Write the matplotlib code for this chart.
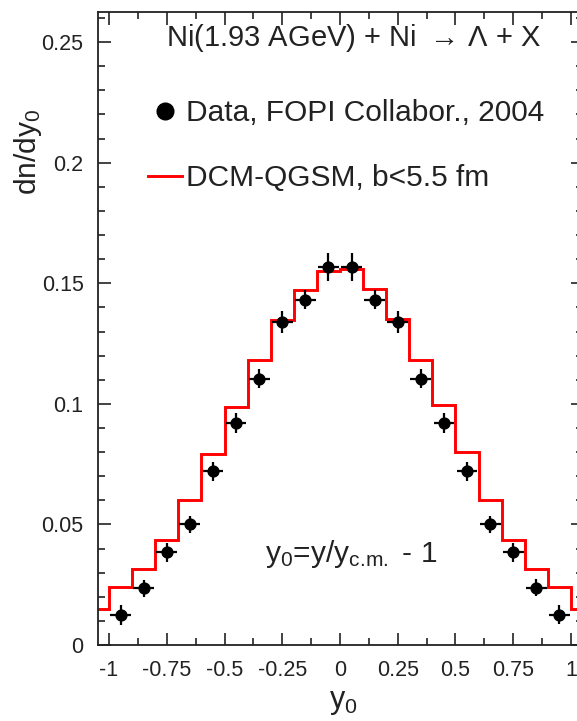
import numpy as np
import matplotlib
matplotlib.use("Agg")
from matplotlib import pyplot as plt
from matplotlib.lines import Line2D
from matplotlib.ticker import MultipleLocator, FuncFormatter

plt.rcParams['font.family'] = ['Liberation Sans', 'DejaVu Sans']
plt.rcParams['mathtext.default'] = 'regular'
plt.rcParams['axes.unicode_minus'] = False

# FOPI data points (bin centres, dn/dy0, errors)
data_x = [-0.95, -0.85, -0.75, -0.65, -0.55, -0.45, -0.35, -0.25, -0.15, -0.05,
          0.05, 0.15, 0.25, 0.35, 0.45, 0.55, 0.65, 0.75, 0.85, 0.95]
data_y = [0.0125, 0.0236, 0.0385, 0.0501, 0.0720, 0.0921, 0.1105, 0.1339, 0.1432, 0.1567,
          0.1567, 0.1432, 0.1339, 0.1105, 0.0921, 0.0720, 0.0501, 0.0385, 0.0237, 0.0126]
data_yerr = [0.0040, 0.0035, 0.0040, 0.0035, 0.0040, 0.0040, 0.0040, 0.0047, 0.0040, 0.0057,
             0.0057, 0.0040, 0.0047, 0.0040, 0.0040, 0.0040, 0.0035, 0.0040, 0.0035, 0.0040]
data_xerr = 0.045

# DCM-QGSM histogram
model_edges = np.round(np.arange(-1.1, 1.1001, 0.1), 2)
model_vals = [0.0148, 0.0240, 0.0314, 0.0435, 0.0600, 0.0794, 0.0987, 0.1180, 0.1346, 0.1473, 0.1553,
              0.1560, 0.1478, 0.1353, 0.1183, 0.0997, 0.0800, 0.0600, 0.0435, 0.0314, 0.0242, 0.0150]

fig = plt.figure(figsize=(5.77, 7.21), dpi=100)
ax = fig.add_axes([97.5 / 577, 1 - 645 / 721, 485 / 577, 633 / 721])

ax.stairs(model_vals, model_edges, color='#ff0000', lw=2.1, zorder=2)
ax.errorbar(data_x, data_y, yerr=data_yerr, xerr=data_xerr, fmt='o', color='black',
            ms=7.8, elinewidth=1.6, capsize=0, zorder=3)

ax.set_xlim(-1.05, 1.05)
ax.set_ylim(0, 0.2625)

ax.xaxis.set_major_locator(MultipleLocator(0.25))
ax.xaxis.set_minor_locator(MultipleLocator(0.125))
ax.yaxis.set_major_locator(MultipleLocator(0.05))
ax.yaxis.set_minor_locator(MultipleLocator(0.01))

def fmt(v, pos):
    s = ('%.2f' % v).rstrip('0').rstrip('.')
    return '0' if s in ('-0', '0') else s

ax.xaxis.set_major_formatter(FuncFormatter(fmt))
ax.yaxis.set_major_formatter(FuncFormatter(fmt))
ax.tick_params(which='both', direction='in', top=True, right=True, colors='#222222',
               labelsize=15.5, width=1.2)
ax.tick_params(which='major', length=9)
ax.tick_params(which='minor', length=5)
ax.tick_params(axis='x', pad=11)
ax.tick_params(axis='y', pad=10)
for sp in ax.spines.values():
    sp.set_linewidth(1.3)
    sp.set_color('#222222')

ax.text(-0.753, 0.2485, r'Ni(1.93 AGeV) + Ni $\rightarrow\,\Lambda$ + X', fontsize=21,
        color='#222222', ha='left', va='baseline', math_fontfamily='cm')
ax.text(-0.325, 0.0344, r'y$_0$=y/y$_{c.\!m.}$ - 1', fontsize=21.5, color='#222222',
        ha='left', va='baseline')

handles = [Line2D([], [], ls='none', marker='o', color='black', ms=12),
           Line2D([], [], color='#ff0000', lw=2.1)]
labels = ['Data, FOPI Collabor., 2004', 'DCM-QGSM, b<5.5 fm']
leg = fig.legend(handles, labels, loc='upper left', bbox_to_anchor=(148 / 577, 1 - 99 / 721),
                 frameon=False, fontsize=21.5, handlelength=1.15, handletextpad=0.12,
                 labelspacing=1.25, borderpad=0, borderaxespad=0)
for t in leg.get_texts():
    t.set_color('#222222')

fig.text(343 / 577, 1 - 708 / 721, r'y$_0$', fontsize=22, color='#222222', ha='center', va='baseline')
fig.text(28 / 577, 1 - 152 / 721, r'dn/dy$_0$', fontsize=21.5, color='#222222', rotation=90,
         ha='center', va='center')

fig.savefig('out.png', dpi=100)
